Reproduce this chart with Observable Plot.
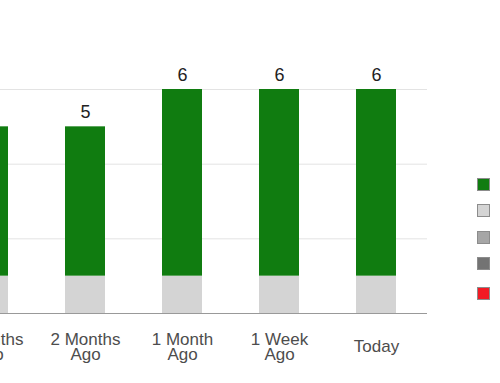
<!DOCTYPE html>
<html>
<head>
<meta charset="utf-8">
<script src="https://cdn.jsdelivr.net/npm/d3@7"></script>
<script src="https://cdn.jsdelivr.net/npm/@observablehq/plot@0.6"></script>
<style>
  html, body { margin: 0; padding: 0; background: #fff; overflow: hidden; }
  #wrap { position: relative; width: 500px; height: 383px; overflow: hidden; background: #fff; }
  #chart svg { position: absolute; left: -100px; top: 0; max-width: none !important; }
  #legend { position: absolute; left: 477px; top: 171px; font-family: "Liberation Sans", Arial, sans-serif; font-size: 13px; color: #444; white-space: nowrap; }
  .item { display: flex; align-items: center; height: 26.5px; }
  .item.sep { margin-top: 3px; }
  .sw { width: 13px; height: 13px; box-sizing: border-box; border: 1.5px solid #8c8c8c; margin-right: 16px; flex: none; }
</style>
</head>
<body>
<div id="wrap">
  <div id="chart"></div>
  <div id="legend"></div>
</div>
<script>
const categories = ["3 Months Ago", "2 Months Ago", "1 Month Ago", "1 Week Ago", "Today"];
const tickLabels = ["3 Months\nAgo", "2 Months\nAgo", "1 Month\nAgo", "1 Week\nAgo", "Today"];
const seriesNames = ["Compliant", "Not Evaluated", "Not Applicable", "Unknown", "Non-Compliant"];
const seriesColors = ["#107c10", "#d4d4d4", "#a6a6a6", "#737373", "#f21b24"];
const compliant = [4, 4, 5, 5, 5];
const notEvaluated = [1, 1, 1, 1, 1];
const notApplicable = [0, 0, 0, 0, 0];
const unknown = [0, 0, 0, 0, 0];
const nonCompliant = [0, 0, 0, 0, 0];
const yTicks = [0, 2, 4, 6];

// stacking order: bottom first
const stackSeries = [
  ["Not Evaluated", notEvaluated],
  ["Compliant", compliant],
  ["Not Applicable", notApplicable],
  ["Unknown", unknown],
  ["Non-Compliant", nonCompliant]
];
const rows = [];
categories.forEach((c, i) => {
  stackSeries.forEach(([name, vals]) => {
    if (vals[i] > 0) rows.push({category: c, series: name, value: vals[i]});
  });
});
const totals = categories.map((c, i) => ({
  category: c,
  total: compliant[i] + notEvaluated[i] + notApplicable[i] + unknown[i] + nonCompliant[i]
}));

const chart = Plot.plot({
  width: 527,
  height: 383,
  marginLeft: 36,
  marginRight: 0,
  marginTop: 89,
  marginBottom: 70,
  x: {domain: categories, paddingInner: 0.59, paddingOuter: 0.307, label: null},
  y: {domain: [0, 6], axis: null, label: null},
  color: {domain: seriesNames, range: seriesColors},
  style: {fontFamily: "'Liberation Sans', Arial, sans-serif", background: "transparent"},
  marks: [
    Plot.gridY(yTicks, {stroke: "#e3e3e3", strokeOpacity: 1}),
    Plot.barY(rows, {x: "category", y: "value", fill: "series"}),
    Plot.ruleY([0], {stroke: "#999999"}),
    Plot.text(totals, {
      x: "category", y: "total", text: d => String(d.total),
      lineAnchor: "bottom", dy: -9, fontSize: 18, fill: "#222222"
    }),
    Plot.axisX({
      tickSize: 0, tickPadding: 0, dy: 34, lineAnchor: "middle", lineHeight: 0.88,
      fontSize: 17, color: "#4d4d4d", label: null,
      tickFormat: d => tickLabels[categories.indexOf(d)]
    })
  ]
});
chart.style.maxWidth = "none";
document.getElementById("chart").appendChild(chart);

const legend = document.getElementById("legend");
seriesNames.forEach((name, i) => {
  const item = document.createElement("div");
  item.className = "item" + (i === seriesNames.length - 1 ? " sep" : "");
  const sw = document.createElement("div");
  sw.className = "sw";
  sw.style.background = seriesColors[i];
  const lab = document.createElement("span");
  lab.textContent = name;
  item.appendChild(sw);
  item.appendChild(lab);
  legend.appendChild(item);
});
</script>
</body>
</html>
